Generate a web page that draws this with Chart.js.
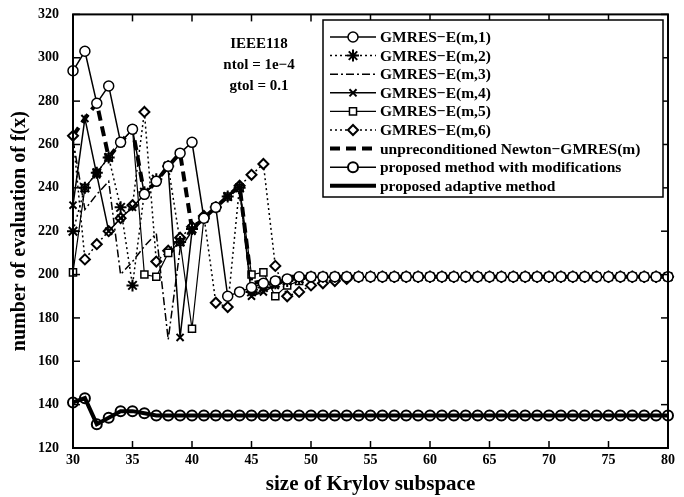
<!DOCTYPE html>
<html>
<head>
<meta charset="utf-8">
<script src="https://cdn.jsdelivr.net/npm/chart.js@4.4.1/dist/chart.umd.min.js"></script>
<style>
  html, body { margin: 0; padding: 0; background: #fff; }
  #wrap { width: 684px; height: 497px; }
</style>
</head>
<body>
<div id="wrap"><canvas id="krylov-chart" width="684" height="497"></canvas></div>
<script>
// ========================================
// Data (x = 30..80)
// ========================================
const sizes = [30,31,32,33,34,35,36,37,38,39,40,41,42,43,44,45,46,47,48,49,50,
  51,52,53,54,55,56,57,58,59,60,61,62,63,64,65,66,67,68,69,70,71,72,73,74,75,76,77,78,79,80];

const gmresE1 = [294,303,279,287,261,267,237,243,250,256,261,226,231,190,192,194,196,197,198,199,199,
  199,199,199,199,199,199,199,199,199,199,199,199,199,199,199,199,199,199,199,199,199,199,199,199,199,199,199,199,199,199];
const gmresE2 = [220,240,247,254,231,195,238,244,250,215,221,226,231,236,240,192,194,196,197,198,199,
  199,199,199,199,199,199,199,199,199,199,199,199,199,199,199,199,199,199,199,199,199,199,199,199,199,199,199,199,199,199];
const gmresE3 = [262,230,237,243,200,206,213,219,170,212,220,226,231,236,241,190,193,195,197,198,199,
  199,199,199,199,199,199,199,199,199,199,199,199,199,199,199,199,199,199,199,199,199,199,199,199,199,199,199,199,199,199];
const gmresE4 = [232,272,246,220,226,231,237,243,249,171,220,226,231,236,240,190,192,195,197,198,199,
  199,199,199,199,199,199,199,199,199,199,199,199,199,199,199,199,199,199,199,199,199,199,199,199,199,199,199,199,199,199];
const gmresE5 = [201,240,247,254,261,267,200,199,210,215,175,226,231,236,240,200,201,190,195,197,199,
  199,199,199,199,199,199,199,199,199,199,199,199,199,199,199,199,199,199,199,199,199,199,199,199,199,199,199,199,199,199];
const gmresE6 = [264,207,214,220,226,232,275,206,211,217,222,227,187,185,241,246,251,204,190,192,195,
  196,197,198,199,199,199,199,199,199,199,199,199,199,199,199,199,199,199,199,199,199,199,199,199,199,199,199,199,199,199];
const unprecond = [264,272,279,254,261,267,237,243,250,256,221,226,231,236,241,196,197,198,199,199,199,
  199,199,199,199,199,199,199,199,199,199,199,199,199,199,199,199,199,199,199,199,199,199,199,199,199,199,199,199,199,199];
const withMods = [141,143,131,134,137,137,136,135,135,135,135,135,135,135,135,135,135,135,135,135,135,
  135,135,135,135,135,135,135,135,135,135,135,135,135,135,135,135,135,135,135,135,135,135,135,135,135,135,135,135,135,135];
const adaptive = [141,143,131,134,137,137,136,135,135,135,135,135,135,135,135,135,135,135,135,135,135,
  135,135,135,135,135,135,135,135,135,135,135,135,135,135,135,135,135,135,135,135,135,135,135,135,135,135,135,135,135,135];

const xTicks = [30,35,40,45,50,55,60,65,70,75,80];
const yTicks = [120,140,160,180,200,220,240,260,280,300,320];
const notes = ['IEEE118', 'ntol = 1e\u22124', 'gtol = 0.1'];

const FONT = '"Liberation Serif", "Times New Roman", serif';

// ========================================
// Series styles
// ========================================
function series(label, values, opts) {
  return Object.assign({
    label,
    data: sizes.map((s, i) => ({ x: s, y: values[i] })),
    borderColor: '#000',
    borderWidth: 1.5,
    pointStyle: false,
    pointRadius: 0,
    pointBorderColor: '#000',
    pointBackgroundColor: '#fff',
    pointBorderWidth: 1.5,
    tension: 0,
    fill: false,
    clip: 10
  }, opts);
}

const datasets = [
  series('GMRES\u2212E(m,1)', gmresE1, { pointStyle: 'circle', pointRadius: 5 }),
  series('GMRES\u2212E(m,2)', gmresE2, { borderDash: [2, 3], pointStyle: 'star', pointRadius: 6, pointBorderWidth: 2 }),
  series('GMRES\u2212E(m,3)', gmresE3, { borderDash: [8, 3, 2, 3] }),
  series('GMRES\u2212E(m,4)', gmresE4, { pointStyle: 'crossRot', pointRadius: 5, pointBorderWidth: 2 }),
  series('GMRES\u2212E(m,5)', gmresE5, { borderWidth: 1.2, pointStyle: 'rect', pointRadius: 5 }),
  series('GMRES\u2212E(m,6)', gmresE6, { borderDash: [2, 3], pointStyle: 'rectRot', pointRadius: 5, pointBorderWidth: 2 }),
  series('unpreconditioned Newton\u2212GMRES(m)', unprecond, { borderWidth: 4, borderDash: [10, 6] }),
  series('proposed adaptive method', adaptive, { borderWidth: 4 }),
  series('proposed method with modifications', withMods, { pointStyle: 'circle', pointRadius: 5, pointBorderWidth: 2 })
];
// legend order as in the reference
const legendOrder = [0, 1, 2, 3, 4, 5, 6, 8, 7];

// ========================================
// Frame, inward ticks, note text and legend
// ========================================
const framePlugin = {
  id: 'frame',
  afterDraw(chart) {
    const { ctx, chartArea: a, scales: { x, y } } = chart;
    ctx.save();
    ctx.strokeStyle = '#000';
    ctx.lineWidth = 1.5;
    ctx.setLineDash([]);
    const seg = (x1, y1, x2, y2) => { ctx.beginPath(); ctx.moveTo(x1, y1); ctx.lineTo(x2, y2); ctx.stroke(); };
    xTicks.forEach(v => {
      const px = x.getPixelForValue(v);
      seg(px, a.bottom, px, a.bottom - 7);
      seg(px, a.top, px, a.top + 7);
    });
    yTicks.forEach(v => {
      const py = y.getPixelForValue(v);
      seg(a.left, py, a.left + 7, py);
      seg(a.right, py, a.right - 7, py);
    });
    ctx.lineWidth = 2;
    ctx.strokeRect(a.left, a.top, a.right - a.left, a.bottom - a.top);

    // note text
    ctx.fillStyle = '#000';
    ctx.font = 'bold 15px ' + FONT;
    ctx.textAlign = 'center';
    ctx.textBaseline = 'middle';
    notes.forEach((t, i) => ctx.fillText(t, 259, 44 + i * 21));

    // legend box
    const bx = 323, by = 20, bw = 340, bh = 177;
    ctx.fillStyle = '#fff';
    ctx.fillRect(bx, by, bw, bh);
    ctx.lineWidth = 1.5;
    ctx.strokeRect(bx, by, bw, bh);
    ctx.font = 'bold 15.5px ' + FONT;
    ctx.textAlign = 'left';
    legendOrder.forEach((di, row) => {
      const ds = chart.data.datasets[di];
      const ly = 37 + row * 18.6;
      ctx.strokeStyle = '#000';
      ctx.lineWidth = ds.borderWidth;
      ctx.setLineDash(ds.borderDash || []);
      seg(330, ly, 376, ly);
      ctx.setLineDash([]);
      if (ds.pointStyle) {
        ctx.fillStyle = '#fff';
        ctx.strokeStyle = '#000';
        ctx.lineWidth = ds.pointBorderWidth;
        Chart.helpers.drawPoint(ctx, {
          pointStyle: ds.pointStyle,
          radius: ds.pointRadius,
          rotation: 0,
          borderWidth: ds.pointBorderWidth
        }, 353, ly);
      }
      ctx.fillStyle = '#000';
      ctx.fillText(ds.label, 380, ly + 1);
    });
    ctx.restore();
  }
};

// ========================================
// Chart
// ========================================
new Chart(document.getElementById('krylov-chart'), {
  type: 'line',
  data: { datasets },
  options: {
    responsive: false,
    animation: false,
    layout: { padding: { top: 12, right: 16, left: 0, bottom: 0 } },
    plugins: { legend: { display: false }, tooltip: { enabled: false } },
    scales: {
      x: {
        type: 'linear',
        min: 30, max: 80,
        afterBuildTicks: s => { s.ticks = xTicks.map(v => ({ value: v })); },
        afterFit: s => { s.height = 49; },
        grid: { display: false },
        border: { display: false },
        ticks: { color: '#000', padding: -4, font: { family: FONT, size: 14, weight: 'bold' } },
        title: { display: true, text: 'size of Krylov subspace', color: '#000', padding: { top: 2, bottom: 0 },
          font: { family: FONT, size: 21, weight: 'bold' } }
      },
      y: {
        min: 120, max: 320,
        afterBuildTicks: s => { s.ticks = yTicks.map(v => ({ value: v })); },
        afterFit: s => { s.width = 73; },
        grid: { display: false },
        border: { display: false },
        ticks: { color: '#000', padding: 6, font: { family: FONT, size: 14, weight: 'bold' } },
        title: { display: true, text: 'number of evaluation of f(x)', color: '#000', padding: { top: 8, bottom: 0 },
          font: { family: FONT, size: 20, weight: 'bold' } }
      }
    }
  },
  plugins: [framePlugin]
});
</script>
</body>
</html>
